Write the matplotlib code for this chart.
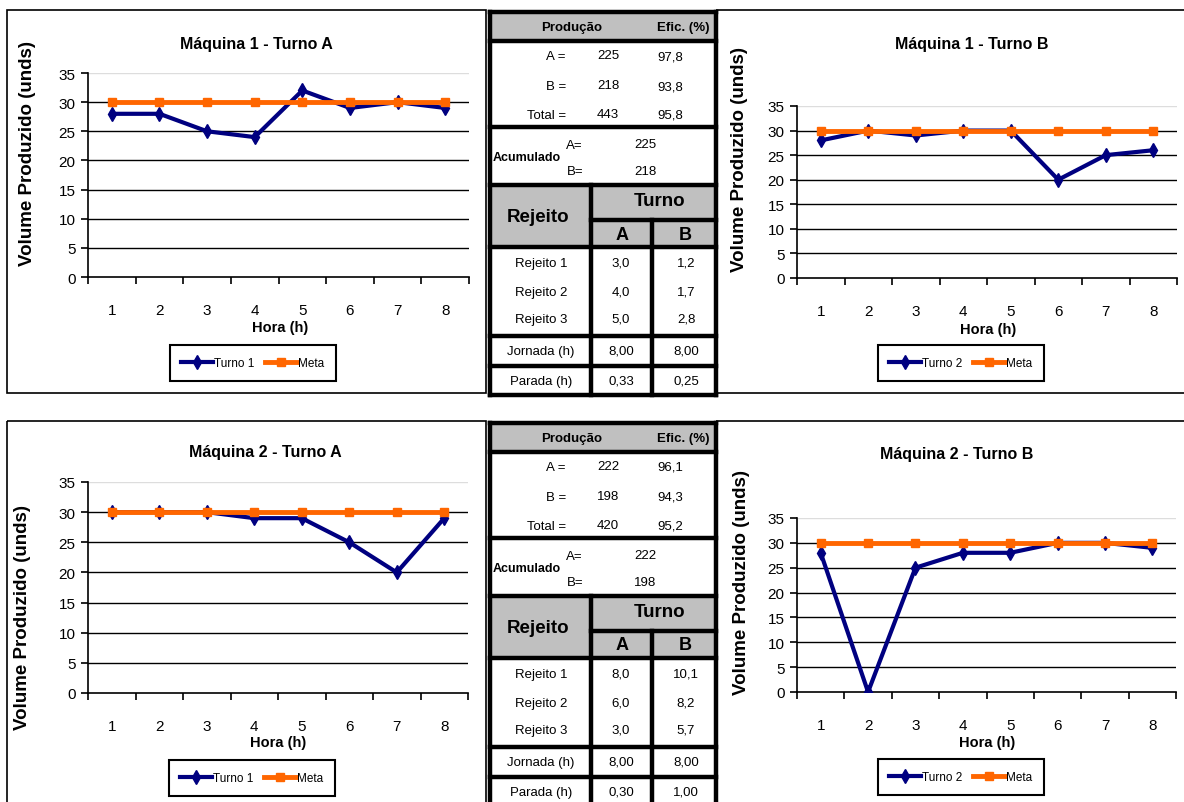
import matplotlib
matplotlib.use("Agg")
import matplotlib.pyplot as plt
from matplotlib.patches import Rectangle

W, H = 1184, 803

# dados de produção por hora
horas = [1, 2, 3, 4, 5, 6, 7, 8]
meta = [30, 30, 30, 30, 30, 30, 30, 30]
m1_turno_a = [28, 28, 25, 24, 32, 29, 30, 29]
m1_turno_b = [28, 30, 29, 30, 30, 20, 25, 26]
m2_turno_a = [30, 30, 30, 29, 29, 25, 20, 29]
m2_turno_b = [28, 0, 25, 28, 28, 30, 30, 29]

# resumo das máquinas
m1_producao = [225, 218, 443]
m1_eficiencia = [97.8, 93.8, 95.8]
m1_acumulado = [225, 218]
m1_rejeito_a = [3.0, 4.0, 5.0]
m1_rejeito_b = [1.2, 1.7, 2.8]
m1_jornada = [8.00, 8.00]
m1_parada = [0.33, 0.25]

m2_producao = [222, 198, 420]
m2_eficiencia = [96.1, 94.3, 95.2]
m2_acumulado = [222, 198]
m2_rejeito_a = [8.0, 6.0, 3.0]
m2_rejeito_b = [10.1, 8.2, 5.7]
m2_jornada = [8.00, 8.00]
m2_parada = [0.30, 1.00]

FONTE = ["Liberation Sans", "DejaVu Sans"]
AZUL = "#000080"
LARANJA = "#FF6600"
CINZA = "#C0C0C0"

fig = plt.figure(figsize=(W / 100, H / 100), dpi=100)
bg = fig.add_axes([0, 0, 1, 1])
bg.set_xlim(0, W)
bg.set_ylim(H, 0)
bg.axis("off")


def dec(v, n=1):
    return f"{v:.{n}f}".replace(".", ",")


def moldura(x0, y0, x1, y1):
    bg.add_patch(Rectangle((x0, y0), x1 - x0, y1 - y0, fill=False,
                           edgecolor="black", linewidth=1.2, zorder=1))


def grafico(box, valores, serie, titulo, pos_titulo, pos_ylabel, pos_xlabel, pos_leg):
    l, t, r, b = box
    ax = fig.add_axes([l / W, 1 - b / H, (r - l) / W, (b - t) / H])
    ax.set_xlim(0.5, 8.5)
    ax.set_ylim(0, 35)
    ax.patch.set_alpha(0)
    for s in ("top", "right"):
        ax.spines[s].set_visible(False)
    ax.spines["left"].set_linewidth(1.2)
    ax.spines["bottom"].set_linewidth(1.2)

    ax.set_yticks(range(0, 36, 5))
    ax.set_yticklabels([str(v) for v in range(0, 36, 5)], fontfamily=FONTE, fontsize=11)
    ax.tick_params(axis="y", direction="out", length=5, width=1.2, pad=4)
    ax.set_xticks([h - 0.5 for h in horas] + [8.5])
    ax.set_xticklabels([])
    ax.tick_params(axis="x", which="major", direction="out", length=5, width=1.2)
    ax.set_xticks(horas, minor=True)
    ax.set_xticklabels([str(h) for h in horas], minor=True, fontfamily=FONTE, fontsize=11)
    ax.tick_params(axis="x", which="minor", length=0, pad=19)

    for v in range(5, 36, 5):
        ax.axhline(v, color="#DDDDDD" if v == 35 else "black", linewidth=1.0, zorder=1)

    ax.plot(horas, valores, color=AZUL, linewidth=3, marker="d", markersize=7,
            label=serie, zorder=3)
    ax.plot(horas, meta, color=LARANJA, linewidth=3.5, marker="s", markersize=6,
            label="Meta", zorder=4)

    leg = ax.legend(loc="center", bbox_to_anchor=(pos_leg[0] / W, 1 - pos_leg[1] / H),
                    bbox_transform=fig.transFigure, ncol=2, frameon=True, fancybox=False,
                    edgecolor="black", framealpha=1, handlelength=2.7, handletextpad=0.1,
                    columnspacing=0.9, borderpad=1.0, borderaxespad=0,
                    prop={"family": FONTE, "size": 8.5})
    leg.get_frame().set_linewidth(1.5)

    bg.text(pos_titulo[0], pos_titulo[1], titulo, ha="center", va="center",
            fontfamily=FONTE, fontweight="bold", fontsize=11.5)
    bg.text(pos_ylabel[0], pos_ylabel[1], "Volume Produzido (unds)", ha="center",
            va="center", rotation=90, fontfamily=FONTE, fontweight="bold", fontsize=13.5)
    bg.text(pos_xlabel[0], pos_xlabel[1], "Hora (h)", ha="center", va="center",
            fontfamily=FONTE, fontweight="bold", fontsize=10.5)


def tabela(dy, producao, eficiencia, acumulado, rej_a, rej_b, jornada, parada):
    x0, x1 = 490, 716
    xa, xb = 591, 652
    lw = 3.2

    def hl(y, xs=x0, xe=x1, w=lw):
        bg.plot([xs, xe], [y + dy, y + dy], color="black", linewidth=w,
                solid_capstyle="projecting", zorder=3)

    def vl(x, ys, ye, w=lw):
        bg.plot([x, x], [ys + dy, ye + dy], color="black", linewidth=w,
                solid_capstyle="projecting", zorder=3)

    def txt(x, y, s, ha="center", bold=False, size=9.5):
        bg.text(x, y + dy, s, ha=ha, va="center", fontfamily=FONTE,
                fontweight="bold" if bold else "normal", fontsize=size, zorder=4)

    bg.add_patch(Rectangle((x0, 13 + dy), x1 - x0, 396 - 13, facecolor="white",
                           edgecolor="none", zorder=2))
    bg.add_patch(Rectangle((x0, 13 + dy), x1 - x0, 42 - 13, facecolor=CINZA,
                           edgecolor="none", zorder=2))
    bg.add_patch(Rectangle((x0, 186 + dy), x1 - x0, 248 - 186, facecolor=CINZA,
                           edgecolor="none", zorder=2))

    for y in (13, 42, 128, 186, 248, 337, 367, 396):
        hl(y)
    vl(x0, 13, 396)
    vl(x1, 13, 396)
    vl(xa, 186, 396)
    vl(xb, 221, 396)
    hl(221, xa, x1)

    txt(572, 28, "Produção", bold=True)
    txt(683, 28, "Efic. (%)", bold=True)
    for y, rot, p, e in zip((57, 87, 116), ("A =", "B =", "Total ="), producao, eficiencia):
        txt(566, y, rot, ha="right")
        txt(608, y - 1, str(p))
        txt(670, y, dec(e))

    txt(527, 158, "Acumulado", bold=True, size=9)
    txt(583, 146, "A=", ha="right")
    txt(583, 172, "B=", ha="right")
    txt(645, 145, str(acumulado[0]))
    txt(645, 172, str(acumulado[1]))

    txt(538, 218, "Rejeito", bold=True, size=13.5)
    txt(660, 202, "Turno", bold=True, size=13.5)
    txt(622, 235, "A", bold=True, size=13)
    txt(685, 235, "B", bold=True, size=13)

    for i, y in enumerate((264, 293, 320)):
        txt(541, y, f"Rejeito {i + 1}")
        txt(621, y, dec(rej_a[i]))
        txt(686, y, dec(rej_b[i]))

    txt(541, 352, "Jornada (h)")
    txt(621, 352, dec(jornada[0], 2))
    txt(686, 352, dec(jornada[1], 2))
    txt(541, 382, "Parada (h)")
    txt(621, 382, dec(parada[0], 2))
    txt(686, 382, dec(parada[1], 2))


# molduras dos gráficos
moldura(7, 11, 486, 394)
moldura(716, 11, 1200, 394)
moldura(7, 422, 486, 820)
moldura(716, 422, 1200, 820)

grafico((88, 74, 469, 278), m1_turno_a, "Turno 1", "Máquina 1 - Turno A",
        (256, 44), (28, 153), (280, 328), (253, 364))
grafico((797, 107, 1177, 279), m1_turno_b, "Turno 2", "Máquina 1 - Turno B",
        (972, 44), (740, 159), (988, 330), (961, 364))
grafico((88, 483, 468, 694), m2_turno_a, "Turno 1", "Máquina 2 - Turno A",
        (265, 453), (23, 618), (278, 743), (252, 779))
grafico((797, 519, 1176, 693), m2_turno_b, "Turno 2", "Máquina 2 - Turno B",
        (957, 455), (742, 583), (987, 743), (961, 778))

tabela(0, m1_producao, m1_eficiencia, m1_acumulado, m1_rejeito_a, m1_rejeito_b,
       m1_jornada, m1_parada)
tabela(411, m2_producao, m2_eficiencia, m2_acumulado, m2_rejeito_a, m2_rejeito_b,
       m2_jornada, m2_parada)

fig.savefig("out.png", dpi=100)
